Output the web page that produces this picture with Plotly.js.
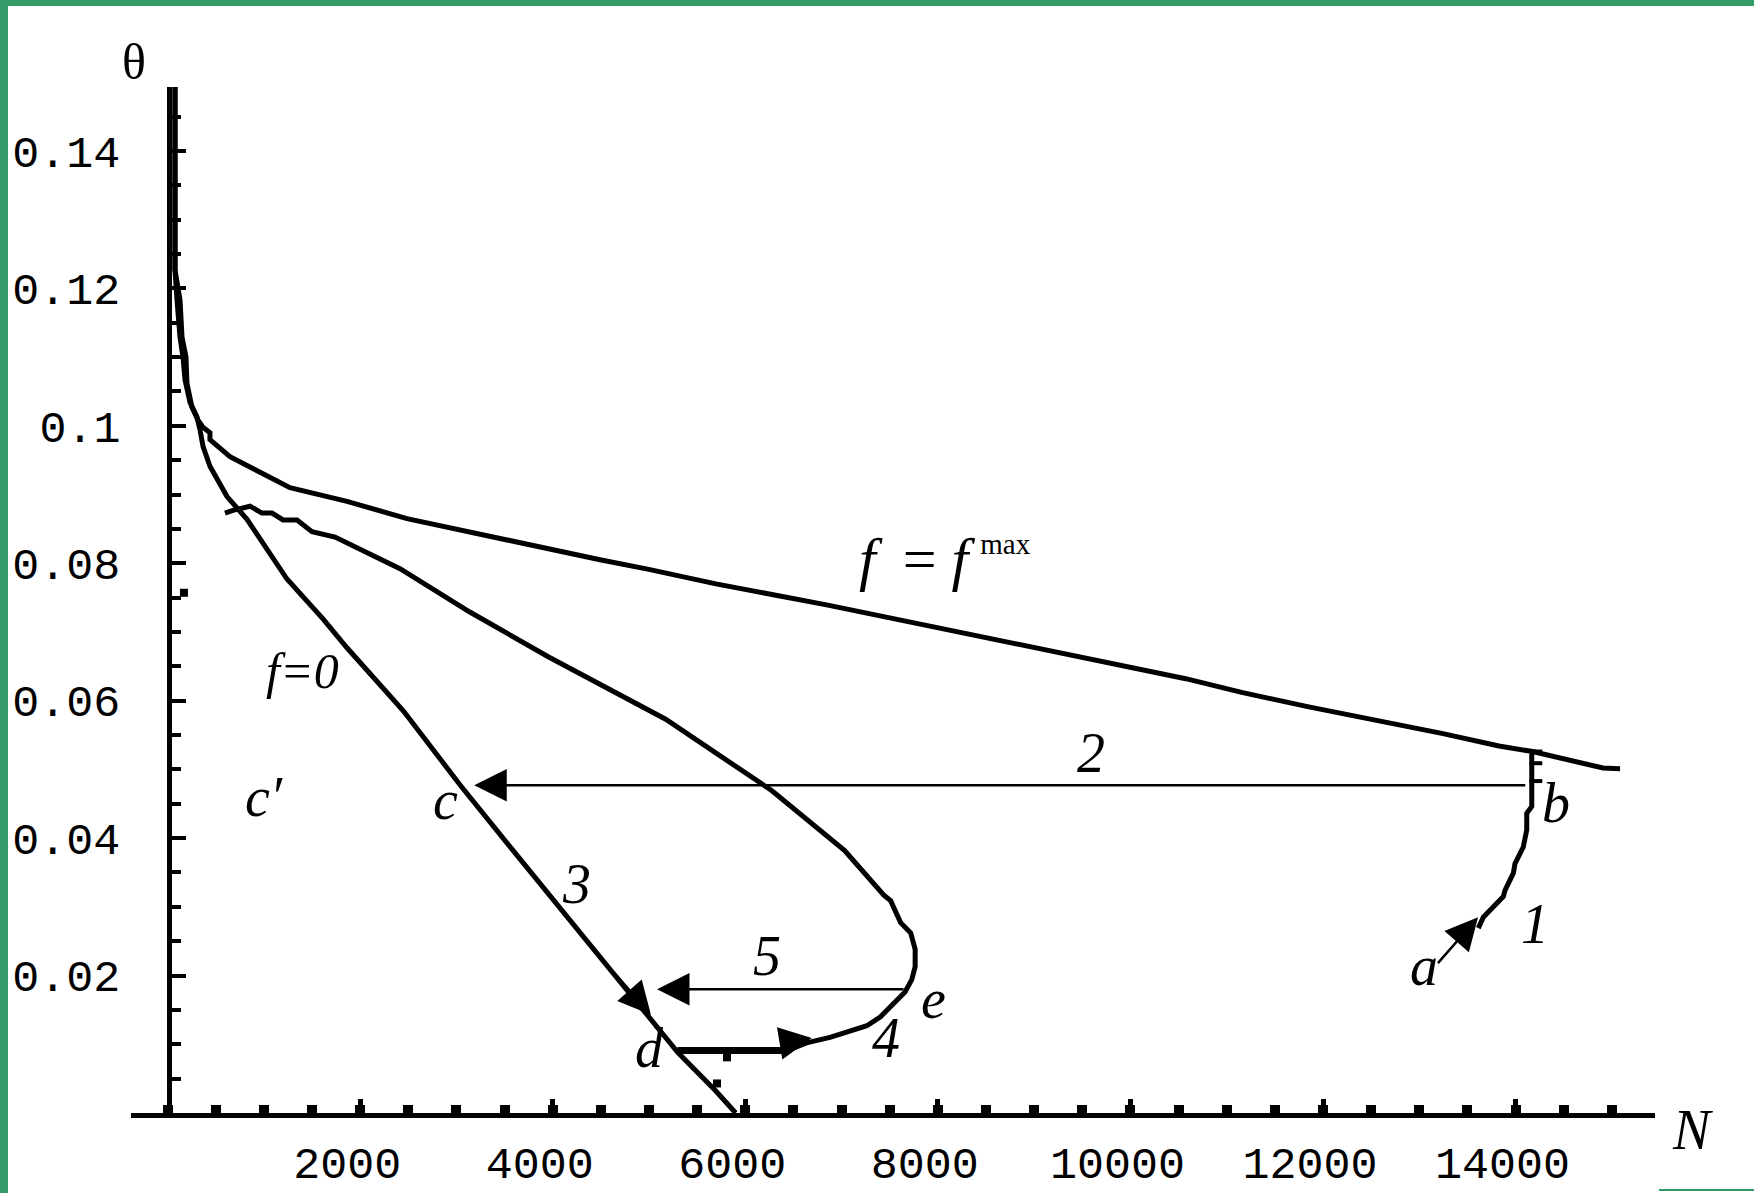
<!DOCTYPE html>
<html>
<head>
<meta charset="utf-8">
<script src="https://cdn.plot.ly/plotly-3.0.1.min.js"></script>
<style>
html,body{margin:0;padding:0;background:#fff;}
#wrap{position:relative;width:1754px;height:1193px;overflow:hidden;}
#chart{position:absolute;left:0;top:0;width:1754px;height:1193px;}
.g{position:absolute;background:#349a68;}
</style>
</head>
<body>
<div id="wrap">
<div id="chart"></div>
<div class="g" style="left:0;top:0;width:1754px;height:6px;"></div>
<div class="g" style="left:0;top:0;width:8px;height:1193px;"></div>
<div class="g" style="left:1659px;top:1189px;width:95px;height:2px;"></div>
</div>
<script>
// ---- data (N, theta) ----
const fmaxN = [77, 77, 129, 150, 191, 201, 253, 316, 368, 440, 440, 648, 1271, 1863, 2486, 3276, 4491, 4998, 5695, 6857, 7554, 8716, 9413, 10574, 11155, 11852, 13246, 13827, 14176, 14908, 15085];
const fmaxTheta = [0.1493, 0.1227, 0.1183, 0.1129, 0.1100, 0.1062, 0.1027, 0.1008, 0.0998, 0.0990, 0.0980, 0.0955, 0.0910, 0.0890, 0.0865, 0.0841, 0.0805, 0.0791, 0.0770, 0.0739, 0.0719, 0.0684, 0.0664, 0.0632, 0.0612, 0.0591, 0.0552, 0.0534, 0.0526, 0.0502, 0.0501];

const f0N = [77, 77, 98, 129, 160, 181, 233, 305, 337, 368, 440, 617, 825, 1240, 1614, 1863, 2450, 3040, 3600, 4150, 4800, 5300, 5694, 5900];
const f0Theta = [0.1493, 0.1227, 0.1183, 0.1129, 0.1100, 0.1067, 0.1034, 0.1013, 0.0994, 0.0970, 0.0941, 0.0897, 0.0864, 0.0777, 0.0719, 0.0677, 0.0585, 0.0477, 0.0380, 0.0285, 0.0172, 0.0088, 0.0032, 0.0];

const midN = [596, 679, 856, 980, 1084, 1199, 1344, 1500, 1739, 2414, 3139, 3953, 5173, 6277, 7032, 7439, 7509, 7613, 7718, 7764, 7764, 7729, 7659, 7532, 7404, 7263, 6880, 6636, 6439];
const midTheta = [0.0873, 0.0877, 0.0883, 0.0873, 0.0873, 0.0863, 0.0863, 0.0846, 0.0838, 0.0792, 0.0729, 0.0664, 0.0573, 0.0469, 0.0382, 0.0317, 0.0309, 0.0277, 0.0262, 0.0238, 0.0213, 0.0194, 0.0176, 0.0159, 0.0140, 0.0127, 0.0110, 0.0102, 0.0091];

const dLineN = [5295, 6439];
const dLineTheta = [0.0091, 0.0091];

const curve1N = [13613, 13665, 13873, 13890, 13977, 13994, 14080, 14116, 14116, 14168, 14168];
const curve1Theta = [0.0269, 0.0285, 0.0315, 0.0324, 0.0349, 0.0363, 0.0387, 0.0412, 0.0436, 0.0446, 0.0523];

// arrows: [tail, tip]
const line2N = [14116, 3185];
const line2Theta = [0.0477, 0.0477];
const line5N = [7659, 5083];
const line5Theta = [0.0180, 0.0180];
const arrowAN = [13180, 13610];
const arrowATheta = [0.0216, 0.0285];
const arrow3N = [4650, 5020];
const arrow3Theta = [0.0202, 0.0143];
const arrow4N = [6560, 6690];
const arrow4Theta = [0.0106, 0.0109];

// small stray marks
const stubN = [14212, 14212, 14212];
const stubTheta = [0.0526, 0.0509, 0.0483];
const dotN = [5810, 5706, 170];
const dotTheta = [0.0081, 0.0043, 0.0757];

// ticks
const xTickVals = [2000, 4000, 6000, 8000, 10000, 12000, 14000];
const xTickText = ['2000', '4000', '6000', '8000', '10000', '12000', '14000'];
const yTickVals = [0.02, 0.04, 0.06, 0.08, 0.1, 0.12, 0.14];
const yTickText = ['0.02', '0.04', '0.06', '0.08', '0.1', '0.12', '0.14'];

// ---- traces ----
const blk = 'black';
const traces = [
  {x: fmaxN, y: fmaxTheta, mode: 'lines', line: {color: blk, width: 5}},
  {x: f0N, y: f0Theta, mode: 'lines', line: {color: blk, width: 5}},
  {x: midN, y: midTheta, mode: 'lines', line: {color: blk, width: 5}},
  {x: dLineN, y: dLineTheta, mode: 'lines', line: {color: blk, width: 7}},
  {x: curve1N, y: curve1Theta, mode: 'lines', line: {color: blk, width: 5}},
  {x: stubN, y: stubTheta, mode: 'markers', marker: {symbol: 'line-ew', size: 9, line: {color: blk, width: 4}}},
  {x: dotN, y: dotTheta, mode: 'markers', marker: {symbol: 'square', size: 8, color: blk}}
].map(t => Object.assign(t, {hoverinfo: 'skip', showlegend: false}));

function arrowAnn(N, T) {
  return {x: N[1], y: T[1], ax: N[0], ay: T[0], xref: 'x', yref: 'y', axref: 'x', ayref: 'y',
    text: '', showarrow: true, arrowhead: 2, arrowsize: 2.6, arrowwidth: 2.5, arrowcolor: blk, standoff: 0};
}
const serif = {family: 'Liberation Serif', size: 56, color: blk};
function lab(text, x, y, size, ref, xanchor) {
  return {x: x, y: y, xref: ref ? 'paper' : 'x', yref: ref ? 'paper' : 'y', text: text, showarrow: false,
    xanchor: xanchor || 'center', yanchor: 'middle', font: Object.assign({}, serif, size ? {size: size} : {})};
}

const annotations = [
  arrowAnn(line2N, line2Theta),
  arrowAnn(line5N, line5Theta),
  arrowAnn(arrowAN, arrowATheta),
  arrowAnn(arrow3N, arrow3Theta),
  arrowAnn(arrow4N, arrow4Theta),
  lab('<i>f</i>\u2009 = <i>f</i>\u2009<sup><span style="font-size:29px">max</span></sup>', 7160, 0.0806, 60, false, 'left'),
  lab('<i>f=0</i>', 1396, 0.0643, 50),
  lab('<i>c\u2032</i>', 1002, 0.0460),
  lab('<i>c</i>', 2882, 0.0456),
  lab('<i>2</i>', 9590, 0.0524),
  lab('<i>b</i>', 14422, 0.0451),
  lab('<i>3</i>', 4242, 0.0333),
  lab('<i>1</i>', 14203, 0.0275),
  lab('<i>a</i>', 13050, 0.0214),
  lab('<i>5</i>', 6226, 0.0228),
  lab('<i>e</i>', 7950, 0.0166),
  lab('<i>4</i>', 7462, 0.0109),
  lab('<i>d</i>', 5000, 0.0094),
  lab('<i>N</i>', 1.0249, -0.0166, 56, true),
  lab('\u03b8', 0.002, 1.0244, 50, true)
];

const tickFont = {family: 'Liberation Mono', size: 45, color: blk};
const layout = {
  width: 1754, height: 1193,
  margin: {l: 131, r: 99, t: 87, b: 80, pad: 0},
  paper_bgcolor: 'white', plot_bgcolor: 'white',
  showlegend: false,
  xaxis: {
    range: [-380, 15448], showgrid: false, zeroline: false,
    showline: true, linecolor: blk, linewidth: 5,
    tickmode: 'array', tickvals: xTickVals, ticktext: xTickText,
    ticks: 'inside', ticklen: 14, tickwidth: 5, tickcolor: blk,
    tickfont: tickFont, ticklabelstandoff: 6, ticklabelshift: -13,
    minor: {dtick: 500, tick0: 0, ticks: 'inside', ticklen: 8, tickwidth: 10, tickcolor: blk, showgrid: false}
  },
  yaxis: {
    range: [0, 0.1493], showgrid: false, zeroline: false,
    anchor: 'free', position: 0.0252,
    showline: true, linecolor: blk, linewidth: 5,
    tickmode: 'array', tickvals: yTickVals, ticktext: yTickText,
    ticks: 'inside', ticklen: 14, tickwidth: 4, tickcolor: blk,
    tickfont: tickFont, ticklabelstandoff: 38,
    minor: {dtick: 0.005, tick0: 0, ticks: 'inside', ticklen: 9, tickwidth: 4, tickcolor: blk, showgrid: false}
  },
  annotations: annotations
};

Plotly.newPlot('chart', traces, layout, {displayModeBar: false, staticPlot: true});
</script>
</body>
</html>
